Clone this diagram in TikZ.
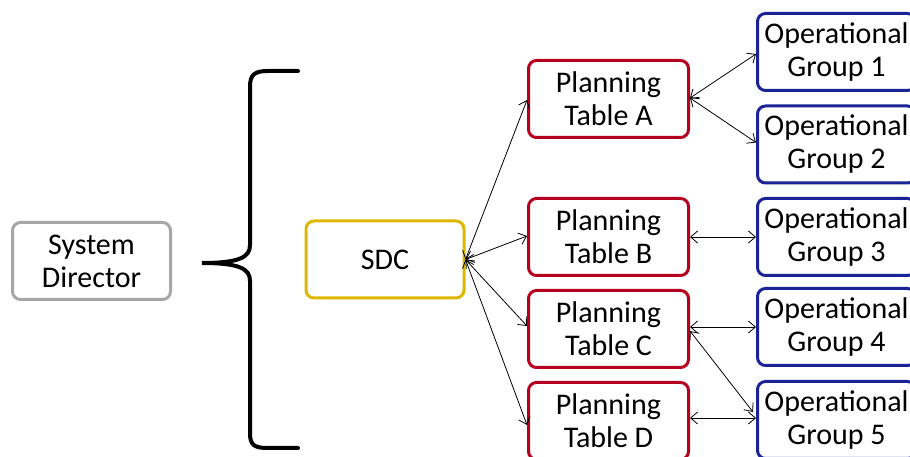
\documentclass[tikz,border=0pt]{standalone}
\usepackage{fontspec}
\setmainfont{Carlito}
\usetikzlibrary{arrows.meta}
\definecolor{sdgray}{RGB}{166,166,166}
\definecolor{sdcyellow}{RGB}{222,184,0}
\definecolor{ptred}{RGB}{180,0,30}
\definecolor{ogblue}{RGB}{26,36,150}
\tikzset{
  box/.style={draw, line width=3pt, rounded corners=8pt, align=center,
    minimum width=158pt, minimum height=77pt, inner sep=0pt,
    font=\fontsize{30}{33}\selectfont},
  sdbox/.style={box, draw=sdgray},
  sdcbox/.style={box, draw=sdcyellow},
  ptbox/.style={box, draw=ptred, minimum width=160pt},
  ogbox/.style={box, draw=ogblue},
  link/.style={line width=0.8pt, {Straight Barb[length=7pt,width=12pt]}-{Straight Barb[length=7pt,width=12pt]}},
  bracestyle/.style={line width=4pt, line cap=round}
}
\begin{document}
\begin{tikzpicture}[x=1pt,y=1pt]
\useasboundingbox (0,0) rectangle (910,457);
\clip (0,0) rectangle (910,457);
\fill[white] (0,0) rectangle (910,457);
% nodes
\node[sdbox] (sd) at (91.5,196) {System\\Director};
\node[sdcbox] (sdc) at (385,197.5) {SDC};
\node[ptbox] (pa) at (608.5,358) {Planning\\Table A};
\node[ptbox] (pb) at (608.5,220) {Planning\\Table B};
\node[ptbox] (pc) at (608.5,128) {Planning\\Table C};
\node[ptbox] (pd) at (608.5,36) {Planning\\Table D};
\node[ogbox] (og1) at (836.5,405) {Operational\\Group 1};
\node[ogbox] (og2) at (836.5,312.5) {Operational\\Group 2};
\node[ogbox] (og3) at (836.5,220) {Operational\\Group 3};
\node[ogbox] (og4) at (836.5,130) {Operational\\Group 4};
\node[ogbox] (og5) at (836.5,37) {Operational\\Group 5};
% brace
\draw[bracestyle] (298,386) -- (268,386) .. controls (254,386) and (250,382) .. (250,370)
  -- (250,212) .. controls (250,200) and (240,194) .. (202,194)
  .. controls (240,194) and (250,188) .. (250,176)
  -- (250,24) .. controls (250,12) and (254,9) .. (268,9) -- (298,9);
% connectors
\draw[link] (sdc.east) -- ([yshift=-1pt]pa.west);
\draw[link] (sdc.east) -- ([yshift=1pt]pb.west);
\draw[link] (sdc.east) -- ([yshift=3pt]pc.west);
\draw[link] (sdc.east) -- ([yshift=-4pt]pd.west);
\draw[link] ([yshift=1pt]pa.east) -- ([yshift=-2pt]og1.west);
\draw[link] ([yshift=1pt]pa.east) -- ([yshift=2pt]og2.west);
\draw[link] (pb.east) -- (og3.west);
\draw[link] ([yshift=2pt]pc.east) -- (og4.west);
\draw[link] ([yshift=-2pt]pc.east) -- ([xshift=-3pt,yshift=8pt]og5.west);
\draw[link] ([yshift=3pt]pd.east) -- ([yshift=2pt]og5.west);
\end{tikzpicture}
\end{document}
